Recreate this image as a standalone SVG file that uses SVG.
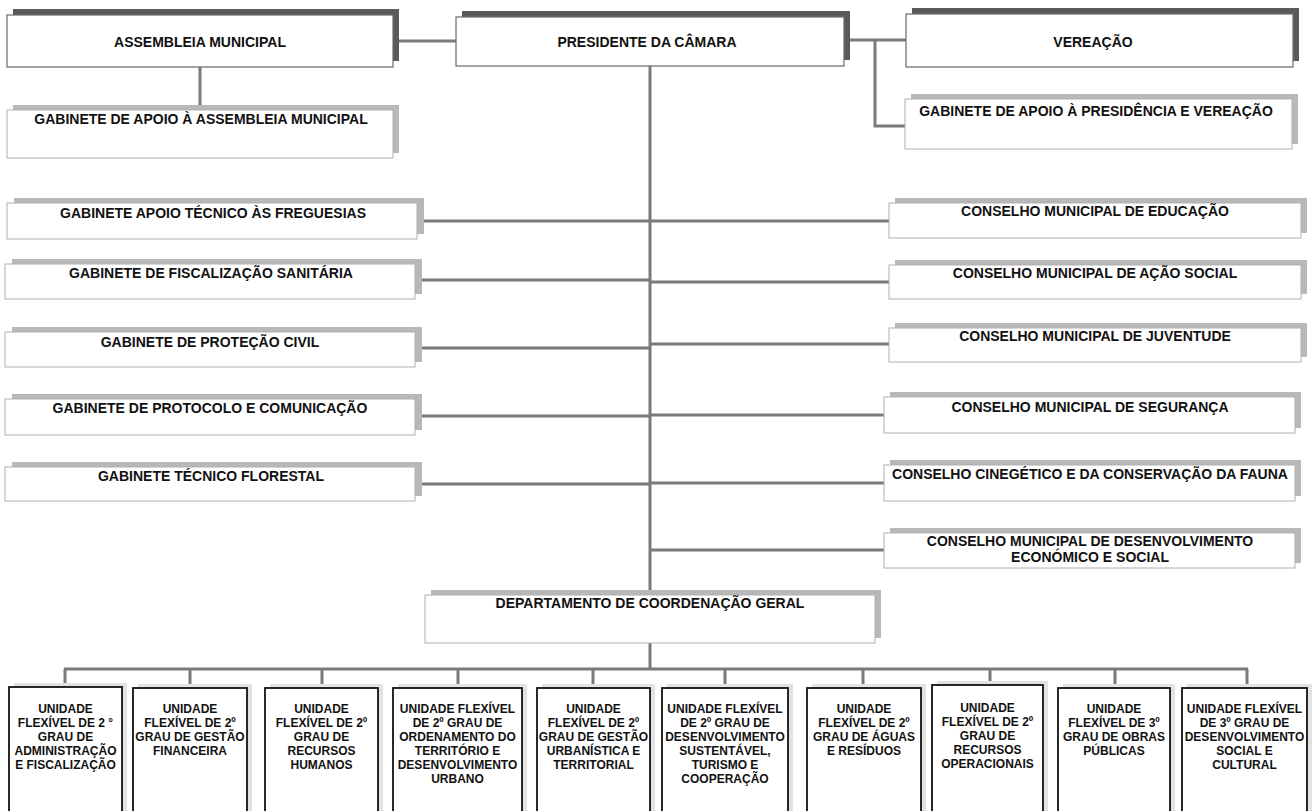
<svg xmlns="http://www.w3.org/2000/svg" width="1313" height="811" viewBox="0 0 1313 811">
<style>
.bg{fill:#ffffff}
.shd{fill:#5a5a5a}
.shl{fill:#b8b8b8}
.shb{fill:#e2e2e2}
.bx{fill:#ffffff;stroke:#6a6a6a;stroke-width:1.2}
.bl{fill:#ffffff;stroke:#b0b0b0;stroke-width:1}
.bk{fill:#ffffff;stroke:#111111;stroke-width:1.8}
.t{font-family:"Liberation Sans",Arial,sans-serif;font-weight:bold;font-size:14px;fill:#111111;text-anchor:middle}
.s{font-family:"Liberation Sans",Arial,sans-serif;font-weight:bold;font-size:12px;fill:#111111;text-anchor:middle}
.c{fill:none;stroke:#7a7a7a;stroke-width:3}
</style>
<rect class="bg" x="0" y="0" width="1313" height="811"/>

<g id="connectors">
<path class="c" d="M399 41 H456"/>
<path class="c" d="M200 67 V106"/>
<path class="c" d="M849 40 H906 M875 40 V126 H905"/>
<path class="c" d="M650 66 V595"/>
<path class="c" d="M424 221 H650 M422 280 H650 M422 348 H650 M422 416 H650 M422 484 H650"/>
<path class="c" d="M650 221 H889 M650 282 H889 M650 344 H889 M650 415 H884 M650 483 H884 M650 550 H884"/>
<path class="c" d="M650 643 V669"/>
<path class="c" d="M64 669 H1248"/>
<path class="c" d="M65 669 V688 M190 669 V688 M322 669 V688 M458 669 V688 M593 669 V688 M725 669 V688 M863 669 V688 M990 669 V686 M1115 669 V688 M1247 669 V688"/>
</g>

<g id="assembleia">
<rect class="shd" x="13" y="9" width="386" height="52"/>
<rect class="bx" x="7" y="15" width="386" height="52"/>
<text class="t" x="200" y="47">ASSEMBLEIA MUNICIPAL</text>
</g>
<g id="presidente">
<rect class="shd" x="462" y="11" width="388" height="49"/>
<rect class="bx" x="456" y="17" width="388" height="49"/>
<text class="t" x="647" y="47">PRESIDENTE DA CÂMARA</text>
</g>
<g id="vereacao">
<rect class="shd" x="912" y="8" width="387" height="53"/>
<rect class="bx" x="906" y="14" width="387" height="53"/>
<text class="t" x="1093" y="47">VEREAÇÃO</text>
</g>
<g id="gab-apoio-assembleia">
<rect class="shl" x="13" y="105" width="386" height="48"/>
<rect class="bl" x="7" y="110" width="386" height="48"/>
<text class="t" x="201" y="124">GABINETE DE APOIO À ASSEMBLEIA MUNICIPAL</text>
</g>
<g id="gab-apoio-presidencia">
<rect class="shl" x="911" y="94" width="387" height="50"/>
<rect class="bl" x="905" y="99" width="387" height="50"/>
<text class="t" x="1096" y="116">GABINETE DE APOIO À PRESIDÊNCIA E VEREAÇÃO</text>
</g>

<g id="gab-freguesias">
<rect class="shl" x="14" y="198" width="410" height="36"/>
<rect class="bl" x="7" y="203" width="410" height="36"/>
<text class="t" x="213" y="218">GABINETE APOIO TÉCNICO ÀS FREGUESIAS</text>
</g>
<g id="gab-fiscalizacao">
<rect class="shl" x="12" y="259" width="410" height="35"/>
<rect class="bl" x="5" y="264" width="410" height="35"/>
<text class="t" x="211" y="278">GABINETE DE FISCALIZAÇÃO SANITÁRIA</text>
</g>
<g id="gab-protecao">
<rect class="shl" x="12" y="327" width="410" height="35"/>
<rect class="bl" x="5" y="332" width="410" height="35"/>
<text class="t" x="210" y="347">GABINETE DE PROTEÇÃO CIVIL</text>
</g>
<g id="gab-protocolo">
<rect class="shl" x="12" y="394" width="410" height="36"/>
<rect class="bl" x="5" y="399" width="410" height="36"/>
<text class="t" x="210" y="413">GABINETE DE PROTOCOLO E COMUNICAÇÃO</text>
</g>
<g id="gab-florestal">
<rect class="shl" x="12" y="462" width="410" height="34"/>
<rect class="bl" x="5" y="467" width="410" height="34"/>
<text class="t" x="211" y="481">GABINETE TÉCNICO FLORESTAL</text>
</g>

<g id="cons-educacao">
<rect class="shl" x="895" y="198" width="412" height="35"/>
<rect class="bl" x="889" y="203" width="412" height="35"/>
<text class="t" x="1095" y="216">CONSELHO MUNICIPAL DE EDUCAÇÃO</text>
</g>
<g id="cons-acao-social">
<rect class="shl" x="895" y="260" width="412" height="34"/>
<rect class="bl" x="889" y="265" width="412" height="34"/>
<text class="t" x="1095" y="278">CONSELHO MUNICIPAL DE AÇÃO SOCIAL</text>
</g>
<g id="cons-juventude">
<rect class="shl" x="895" y="323" width="412" height="34"/>
<rect class="bl" x="889" y="328" width="412" height="34"/>
<text class="t" x="1095" y="341">CONSELHO MUNICIPAL DE JUVENTUDE</text>
</g>
<g id="cons-seguranca">
<rect class="shl" x="890" y="392" width="411" height="36"/>
<rect class="bl" x="884" y="397" width="411" height="36"/>
<text class="t" x="1090" y="412">CONSELHO MUNICIPAL DE SEGURANÇA</text>
</g>
<g id="cons-cinegetico">
<rect class="shl" x="890" y="460" width="411" height="36"/>
<rect class="bl" x="884" y="465" width="411" height="36"/>
<text class="t" x="1090" y="479">CONSELHO CINEGÉTICO E DA CONSERVAÇÃO DA FAUNA</text>
</g>
<g id="cons-desenvolvimento">
<rect class="shl" x="890" y="528" width="411" height="35"/>
<rect class="bl" x="884" y="533" width="411" height="35"/>
<text class="t" x="1090" y="546">CONSELHO MUNICIPAL DE DESENVOLVIMENTO</text>
<text class="t" x="1090" y="562">ECONÓMICO E SOCIAL</text>
</g>

<g id="departamento">
<rect class="shl" x="431" y="590" width="450" height="48"/>
<rect class="bl" x="425" y="595" width="450" height="48"/>
<text class="t" x="650" y="608">DEPARTAMENTO DE COORDENAÇÃO GERAL</text>
</g>

<g id="uf-administracao">
<rect class="shb" x="14" y="683" width="113" height="140"/>
<rect class="bk" x="9" y="687" width="113" height="140"/>
<text class="s" x="65.5" y="713">UNIDADE</text>
<text class="s" x="65.5" y="727">FLEXÍVEL DE 2 °</text>
<text class="s" x="65.5" y="741">GRAU DE</text>
<text class="s" x="65.5" y="755">ADMINISTRAÇÃO</text>
<text class="s" x="65.5" y="769">E FISCALIZAÇÃO</text>
</g>
<g id="uf-gestao-financeira">
<rect class="shb" x="138" y="684" width="114" height="140"/>
<rect class="bk" x="133" y="688" width="114" height="140"/>
<text class="s" x="190" y="713">UNIDADE</text>
<text class="s" x="190" y="727">FLEXÍVEL DE 2º</text>
<text class="s" x="190" y="741">GRAU DE GESTÃO</text>
<text class="s" x="190" y="755">FINANCEIRA</text>
</g>
<g id="uf-recursos-humanos">
<rect class="shb" x="270" y="684" width="113" height="140"/>
<rect class="bk" x="265" y="688" width="113" height="140"/>
<text class="s" x="321.5" y="713">UNIDADE</text>
<text class="s" x="321.5" y="727">FLEXÍVEL DE 2º</text>
<text class="s" x="321.5" y="741">GRAU DE</text>
<text class="s" x="321.5" y="755">RECURSOS</text>
<text class="s" x="321.5" y="769">HUMANOS</text>
</g>
<g id="uf-ordenamento">
<rect class="shb" x="398" y="684" width="129" height="140"/>
<rect class="bk" x="393" y="688" width="129" height="140"/>
<text class="s" x="457.5" y="713">UNIDADE FLEXÍVEL</text>
<text class="s" x="457.5" y="727">DE 2º GRAU DE</text>
<text class="s" x="457.5" y="741">ORDENAMENTO DO</text>
<text class="s" x="457.5" y="755">TERRITÓRIO E</text>
<text class="s" x="457.5" y="769">DESENVOLVIMENTO</text>
<text class="s" x="457.5" y="783">URBANO</text>
</g>
<g id="uf-gestao-urbanistica">
<rect class="shb" x="542" y="684" width="113" height="140"/>
<rect class="bk" x="537" y="688" width="113" height="140"/>
<text class="s" x="593.5" y="713">UNIDADE</text>
<text class="s" x="593.5" y="727">FLEXÍVEL DE 2º</text>
<text class="s" x="593.5" y="741">GRAU DE GESTÃO</text>
<text class="s" x="593.5" y="755">URBANÍSTICA E</text>
<text class="s" x="593.5" y="769">TERRITORIAL</text>
</g>
<g id="uf-desenvolvimento-sustentavel">
<rect class="shb" x="667" y="684" width="126" height="140"/>
<rect class="bk" x="662" y="688" width="126" height="140"/>
<text class="s" x="725" y="713">UNIDADE FLEXÍVEL</text>
<text class="s" x="725" y="727">DE 2º GRAU DE</text>
<text class="s" x="725" y="741">DESENVOLVIMENTO</text>
<text class="s" x="725" y="755">SUSTENTÁVEL,</text>
<text class="s" x="725" y="769">TURISMO E</text>
<text class="s" x="725" y="783">COOPERAÇÃO</text>
</g>
<g id="uf-aguas-residuos">
<rect class="shb" x="812" y="684" width="114" height="140"/>
<rect class="bk" x="807" y="688" width="114" height="140"/>
<text class="s" x="864" y="713">UNIDADE</text>
<text class="s" x="864" y="727">FLEXÍVEL DE 2º</text>
<text class="s" x="864" y="741">GRAU DE ÁGUAS</text>
<text class="s" x="864" y="755">E RESÍDUOS</text>
</g>
<g id="uf-recursos-operacionais">
<rect class="shb" x="937" y="681" width="111" height="140"/>
<rect class="bk" x="932" y="685" width="111" height="140"/>
<text class="s" x="987.5" y="712">UNIDADE</text>
<text class="s" x="987.5" y="726">FLEXÍVEL DE 2º</text>
<text class="s" x="987.5" y="740">GRAU DE</text>
<text class="s" x="987.5" y="754">RECURSOS</text>
<text class="s" x="987.5" y="768">OPERACIONAIS</text>
</g>
<g id="uf-obras-publicas">
<rect class="shb" x="1063" y="684" width="112" height="140"/>
<rect class="bk" x="1058" y="688" width="112" height="140"/>
<text class="s" x="1114" y="713">UNIDADE</text>
<text class="s" x="1114" y="727">FLEXÍVEL DE 3º</text>
<text class="s" x="1114" y="741">GRAU DE OBRAS</text>
<text class="s" x="1114" y="755">PÚBLICAS</text>
</g>
<g id="uf-desenvolvimento-social">
<rect class="shb" x="1187" y="684" width="125" height="140"/>
<rect class="bk" x="1182" y="688" width="125" height="140"/>
<text class="s" x="1244.5" y="713">UNIDADE FLEXÍVEL</text>
<text class="s" x="1244.5" y="727">DE 3º GRAU DE</text>
<text class="s" x="1244.5" y="741">DESENVOLVIMENTO</text>
<text class="s" x="1244.5" y="755">SOCIAL E</text>
<text class="s" x="1244.5" y="769">CULTURAL</text>
</g>
</svg>
